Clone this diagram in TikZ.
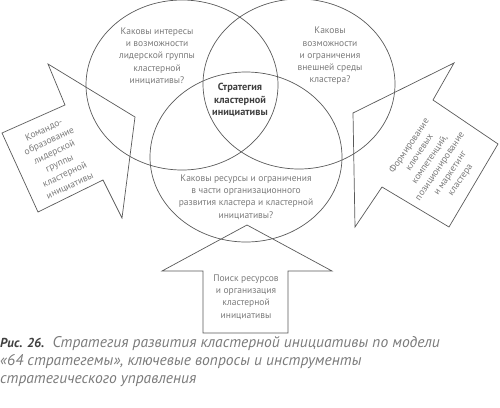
\documentclass[tikz,border=0pt]{standalone}
\usepackage{fontspec}
\setmainfont{PT Sans}
\usetikzlibrary{positioning,shapes.geometric}
\definecolor{linegray}{gray}{0.35}
\definecolor{textgray}{gray}{0.48}
\definecolor{darkgray}{gray}{0.25}
\begin{document}
\begin{tikzpicture}[x=1pt,y=-1pt,
oval/.style={draw=linegray,ellipse,minimum width=192pt,minimum height=170pt,line width=0.7pt},
blockarr/.style={draw=linegray,line width=0.7pt,line join=miter},
txt/.style={align=center,text=textgray,inner sep=0pt,font=\fontsize{9.5}{12.3}\selectfont},
core/.style={align=center,text=darkgray,inner sep=0pt,font=\fontsize{10.3}{12.5}\selectfont\bfseries},
captxt/.style={align=left,text=textgray,inner sep=0pt,font=\fontsize{15.5}{18}\selectfont\itshape}]
\useasboundingbox (0,0) rectangle (500,407);
% three circles of the model
\node[oval] (lead) at (182,85) {};
\node[oval] (env) at (299,84) {};
\node[oval] (res) at (246,157) {};
\node[txt] (leadq) at (157,56) {Каковы интересы\\и возможности\\лидерской группы\\кластерной\\инициативы?};
\node[txt] (envq) at (330,56) {Каковы\\возможности\\и ограничения\\внешней среды\\кластера?};
\node[txt] (resq) at (246,197) {Каковы ресурсы и ограничения\\в части организационного\\развития кластера и кластерной\\инициативы?};
\node[core] (strat) at (240,100) {Стратегия\\кластерной\\инициативы};
% block arrows
\draw[blockarr] (48,64) -- (135,117) -- (122,218) -- (103,180) -- (38,212) -- (2,133) -- (65,105) -- cycle;
\draw[blockarr] (353,113) -- (454,63) -- (433,100) -- (498,144) -- (449,227) -- (382,187) -- (355,227) -- cycle;
\draw[blockarr] (247,225) -- (332,271) -- (288,271) -- (288,333) -- (203,333) -- (203,271) -- (162,271) -- cycle;
\node[txt,rotate=25] (team) at (57,158) {Командо-\\образование\\лидерской\\группы\\кластерной\\инициативы};
\node[txt,rotate=56] (comp) at (435,163) {Формирование\\ключевых\\компетенций,\\позиционирование\\и маркетинг\\кластера};
\node[txt] (search) at (246,297) {Поиск ресурсов\\и организация\\кластерной\\инициативы};
% caption
\node[captxt,anchor=north west] (cap) at (0,336) {{\color{darkgray}\fontsize{13}{18}\selectfont\bfseries Рис. 26.}\ \ Стратегия развития кластерной инициативы по модели\\«64 стратегемы», ключевые вопросы и инструменты\\стратегического управления};
\end{tikzpicture}
\end{document}
